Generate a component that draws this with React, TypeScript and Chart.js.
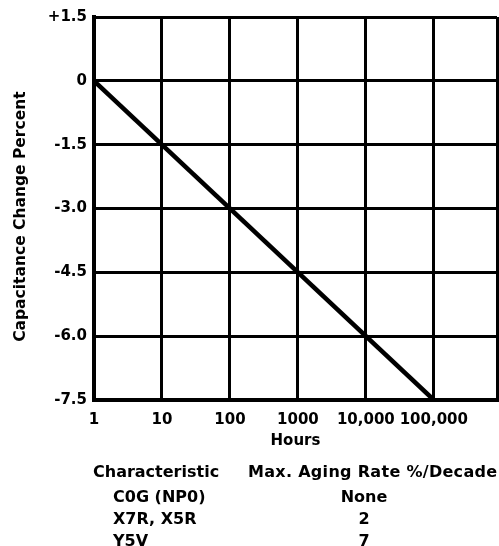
import React, { useEffect, useRef } from "react";
import { Chart, registerables } from "chart.js";

Chart.register(...registerables);

const hours: number[] = [1, 100000];
const capacitanceChange: number[] = [0, -7.5];

const xTickValues: number[] = [1, 10, 100, 1000, 10000, 100000, 850000];
const xTickLabels: string[] = ["1", "10", "100", "1000", "10,000", "100,000", ""];

const yTickValues: number[] = [1.5, 0, -1.5, -3.0, -4.5, -6.0, -7.5];
const yTickLabels: string[] = ["+1.5", "0", "-1.5", "-3.0", "-4.5", "-6.0", "-7.5"];

const tableHeaders: string[] = ["Characteristic", "Max. Aging Rate %/Decade"];
const characteristics: string[] = ["C0G (NP0)", "X7R, X5R", "Y5V"];
const agingRates: string[] = ["None", "2", "7"];

const FONT = "'DejaVu Sans', 'Liberation Sans', Arial, sans-serif";

export default function App() {
  const canvasRef = useRef<HTMLCanvasElement | null>(null);

  useEffect(() => {
    const canvas = canvasRef.current;
    if (!canvas) return;
    const chart = new Chart(canvas, {
      type: "line",
      data: {
        datasets: [
          {
            data: hours.map((h, i) => ({ x: h, y: capacitanceChange[i] })),
            borderColor: "#000",
            borderWidth: 4.5,
            pointRadius: 0,
            fill: false,
          },
        ],
      },
      options: {
        animation: false,
        responsive: false,
        maintainAspectRatio: false,
        layout: { padding: { left: 0, right: 2, top: 17, bottom: 86 } },
        plugins: { legend: { display: false }, tooltip: { enabled: false } },
        scales: {
          x: {
            type: "logarithmic",
            min: 1,
            max: 850000,
            afterBuildTicks: (s: any) => {
              s.ticks = xTickValues.map((v) => ({ value: v }));
            },
            afterFit: (s: any) => {
              s.height = 60;
              s.paddingLeft = 0;
              s.paddingRight = 0;
            },
            grid: { color: "#000", lineWidth: 3, drawTicks: false },
            border: { display: true, color: "#000", width: 4 },
            ticks: {
              autoSkip: false,
              maxRotation: 0,
              padding: 11,
              color: "#000",
              font: { family: FONT, size: 15, weight: "bold" },
              callback: (v: any) => {
                const i = xTickValues.findIndex((t) => Math.abs(t - Number(v)) < 1e-6);
                return i >= 0 ? xTickLabels[i] : "";
              },
            },
            title: {
              display: true,
              text: "Hours",
              color: "#000",
              font: { family: FONT, size: 15, weight: "bold" },
              padding: { top: 0, bottom: 10 },
            },
          },
          y: {
            type: "linear",
            min: -7.5,
            max: 1.5,
            afterBuildTicks: (s: any) => {
              s.ticks = yTickValues.slice().reverse().map((v) => ({ value: v }));
            },
            afterFit: (s: any) => {
              s.width = 94;
              s.paddingTop = 0;
              s.paddingBottom = 0;
            },
            grid: { color: "#000", lineWidth: 3, drawTicks: false },
            border: { display: true, color: "#000", width: 4 },
            ticks: {
              padding: 7,
              color: "#000",
              font: { family: FONT, size: 15, weight: "bold" },
              callback: (v: any) => {
                const i = yTickValues.findIndex((t) => Math.abs(t - Number(v)) < 1e-6);
                return i >= 0 ? yTickLabels[i] : "";
              },
            },
            title: {
              display: true,
              text: "Capacitance Change Percent   ",
              color: "#000",
              font: { family: FONT, size: 15.5, weight: "bold" },
              padding: { top: 12, bottom: 0 },
            },
          },
        },
      },
    } as any);
    return () => chart.destroy();
  }, []);

  const textStyle: React.CSSProperties = {
    position: "absolute",
    fontFamily: FONT,
    fontSize: 16,
    fontWeight: "bold",
    lineHeight: "18px",
    whiteSpace: "nowrap",
    color: "#000",
  };

  return (
    <div
      style={{
        position: "absolute",
        left: 0,
        top: 0,
        width: 499,
        height: 546,
        overflow: "hidden",
        background: "#fff",
      }}
    >
      <canvas ref={canvasRef} width={499} height={546} style={{ display: "block" }} />
      <div style={{ ...textStyle, left: 93, top: 463 }}>{tableHeaders[0]}</div>
      <div style={{ ...textStyle, left: 248, top: 463, letterSpacing: "0.3px" }}>{tableHeaders[1]}</div>
      {characteristics.map((c, i) => (
        <div key={"c" + i} style={{ ...textStyle, left: 113, top: 488 + i * 22 }}>
          {c}
        </div>
      ))}
      {agingRates.map((r, i) => (
        <div
          key={"r" + i}
          style={{ ...textStyle, left: 314, width: 100, textAlign: "center", top: 488 + i * 22 }}
        >
          {r}
        </div>
      ))}
    </div>
  );
}
